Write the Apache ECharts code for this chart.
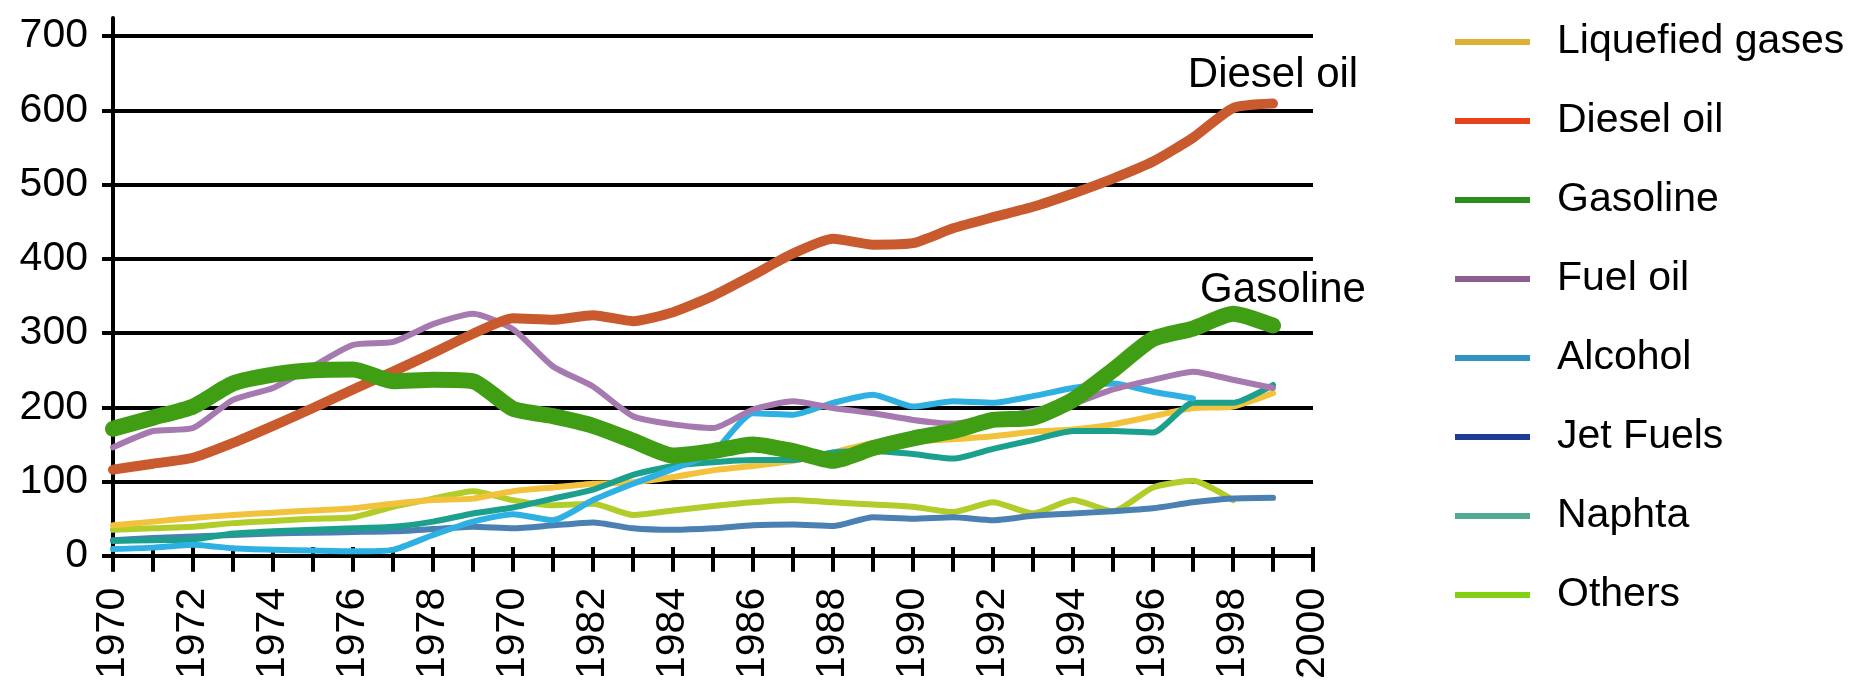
<!DOCTYPE html>
<html>
<head>
<meta charset="utf-8">
<script src="https://cdn.jsdelivr.net/npm/echarts@6/dist/echarts.min.js"></script>
<style>
html,body{margin:0;padding:0;background:#fff;}
#chart{width:1870px;height:682px;}
</style>
</head>
<body>
<div id="chart"></div>
<script>
var years = [1970,1971,1972,1973,1974,1975,1976,1977,1978,1979,1980,1981,1982,1983,1984,1985,1986,1987,1988,1989,1990,1991,1992,1993,1994,1995,1996,1997,1998,1999];
var tickLabels = {1970:'1970',1972:'1972',1974:'1974',1976:'1976',1978:'1978',1980:'1970',1982:'1982',1984:'1984',1986:'1986',1988:'1988',1990:'1990',1992:'1992',1994:'1994',1996:'1996',1998:'1998',2000:'2000'};
var yTicks = [0,100,200,300,400,500,600,700];

var liquefiedGases = [41,46,51,55,58,61,64,70,75,77,87,92,97,99,106,115,121,128,139,152,154,157,161,167,170,177,188,199,201,219];
var dieselOil      = [116,124,132,152,175,199,224,248,273,299,320,318,324,316,328,350,378,407,427,419,421,441,456,470,488,508,531,563,603,609];
var gasoline       = [171,186,201,232,244,250,251,235,237,235,198,188,175,155,135,141,150,141,128,145,158,168,183,186,210,250,292,306,326,310];
var fuelOil        = [146,168,172,210,226,255,284,288,312,326,305,255,228,188,177,172,197,208,199,192,183,178,185,195,205,224,237,248,237,226];
var alcohol        = [9,11,15,10,8,7,6,8,28,46,56,48,75,97,117,139,192,190,206,217,201,208,206,215,226,232,221,212,null,null];
var jetFuels       = [21,24,26,28,30,31,32,33,36,39,37,41,45,37,35,37,41,42,40,52,50,52,48,54,57,60,64,72,77,78];
var naphta         = [20,21,22,30,33,35,37,39,46,57,65,77,89,109,121,126,129,129,139,141,137,131,144,156,168,168,166,206,206,230];
var others         = [35,37,39,44,47,50,52,66,77,87,75,68,70,55,61,67,72,75,72,69,66,59,72,57,75,60,92,101,75,null];

var FONT = 'Liberation Sans, Arial, sans-serif';

function pairs(vals) {
  var out = [];
  for (var i = 0; i < years.length; i++) {
    if (vals[i] == null) continue;
    out.push([years[i], vals[i]]);
  }
  return out;
}

function line(name, vals, color, width, z, tag) {
  var d = pairs(vals);
  var s = {
    name: name, type: 'line', data: d, xAxisIndex: 0, yAxisIndex: 0,
    showSymbol: false, symbol: 'none', smooth: 0.2, z: z,
    lineStyle: {color: color, width: width, cap: 'round', join: 'round'},
    itemStyle: {color: color},
    emphasis: {disabled: true}
  };
  if (tag) {
    s.markPoint = {
      silent: true, symbol: 'circle', symbolSize: 1,
      itemStyle: {color: 'rgba(0,0,0,0)'},
      label: {show: true, formatter: tag.text, position: 'top', distance: tag.distance,
              offset: tag.offset || [0, 0], fontSize: 42, color: '#000', fontFamily: FONT},
      data: [{coord: d[d.length - 1]}]
    };
  }
  return s;
}

var hiddenAxis = {axisLine: {show: false}, axisTick: {show: false}, axisLabel: {show: false}, splitLine: {show: false}};

var chart = echarts.init(document.getElementById('chart'), null, {renderer: 'canvas'});
chart.setOption({
  animation: false,
  backgroundColor: '#ffffff',
  grid: [
    {left: 113, right: 557, top: 36, bottom: 121, containLabel: false},
    {left: 113, right: 557, top: 547, height: 14, containLabel: false},
    {left: 113, right: 557, top: 18, height: 18, containLabel: false}
  ],
  xAxis: [{
    gridIndex: 0, type: 'value', min: 1970, max: 2000, interval: 1,
    axisLine: {show: true, onZero: false, lineStyle: {color: '#000', width: 4}},
    axisTick: {show: true, length: 16, lineStyle: {color: '#000', width: 4}},
    splitLine: {show: false},
    axisLabel: {
      rotate: 90, margin: 32, fontSize: 41, color: '#000', fontFamily: FONT,
      formatter: function (v) { return tickLabels[v] || ''; }
    }
  }, Object.assign({
    gridIndex: 1, type: 'value', min: 1970, max: 2000, interval: 1
  }, hiddenAxis, {splitLine: {show: true, lineStyle: {color: '#000', width: 4}}}),
  Object.assign({gridIndex: 2, type: 'value', min: 1970, max: 2000}, hiddenAxis)],
  yAxis: [{
    gridIndex: 0, type: 'value', min: yTicks[0], max: yTicks[yTicks.length - 1], interval: 100,
    axisLine: {show: true, lineStyle: {color: '#000', width: 4}},
    axisTick: {show: true, length: 11, lineStyle: {color: '#000', width: 4}},
    splitLine: {show: true, lineStyle: {color: '#000', width: 4}},
    axisLabel: {margin: 25, fontSize: 41, color: '#000', fontFamily: FONT}
  }, Object.assign({gridIndex: 1, type: 'value', min: 0, max: 1}, hiddenAxis),
  Object.assign({gridIndex: 2, type: 'value', min: 0, max: 1}, hiddenAxis,
    {axisLine: {show: true, lineStyle: {color: '#000', width: 4}}})],
  legend: {
    orient: 'vertical', left: 1450, top: 12,
    itemWidth: 75, itemHeight: 6, itemGap: 29, icon: 'rect',
    textStyle: {fontSize: 41, lineHeight: 50, color: '#000', fontFamily: FONT, padding: [0, 0, 0, 22]},
    selectedMode: false,
    data: [
      {name: 'Liquefied gases', itemStyle: {color: '#e0b032'}},
      {name: 'Diesel oil', itemStyle: {color: '#e8421c'}},
      {name: 'Gasoline', itemStyle: {color: '#2c8c1e'}},
      {name: 'Fuel oil', itemStyle: {color: '#8c5e92'}},
      {name: 'Alcohol', itemStyle: {color: '#3292c2'}},
      {name: 'Jet Fuels', itemStyle: {color: '#1c3c94'}},
      {name: 'Naphta', itemStyle: {color: '#52aa90'}},
      {name: 'Others', itemStyle: {color: '#82d012'}}
    ]
  },
  series: [
    line('Others', others, '#b2cc2a', 6, 2),
    line('Jet Fuels', jetFuels, '#4a80b2', 6, 3),
    line('Liquefied gases', liquefiedGases, '#f2c23c', 6, 4),
    line('Naphta', naphta, '#1ca08e', 6, 5),
    line('Alcohol', alcohol, '#2eb0e2', 6, 6),
    line('Fuel oil', fuelOil, '#a67ab0', 6, 7),
    line('Diesel oil', dieselOil, '#c85a2e', 10, 8, {text: 'Diesel oil', distance: 7}),
    line('Gasoline', gasoline, '#3f9e14', 16, 9, {text: 'Gasoline', distance: 14, offset: [10, 0]})
  ]
});
</script>
</body>
</html>
